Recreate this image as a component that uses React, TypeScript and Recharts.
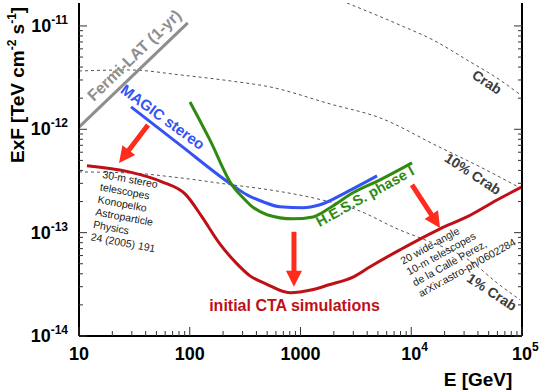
import React from 'react';
import { ComposedChart, Line, XAxis, YAxis, ReferenceLine, ReferenceDot } from 'recharts';

const FONT = '"Liberation Sans", Arial, Helvetica, sans-serif';

// ---------- data (E in GeV, F = E x F in TeV cm^-2 s^-1) ----------
const fermiE = [10, 96];
const fermiF = [1.05e-12, 1.07e-11];

const magicE = [29.5, 81.6, 240, 329, 458, 653, 1054, 1500, 2630, 4910];
const magicF = [1.65e-12, 7.06e-13, 2.9e-13, 2.32e-13, 1.99e-13, 1.78e-13, 1.74e-13, 1.86e-13, 2.48e-13, 3.54e-13];

const hessE = [100.5, 152, 240, 297, 350, 499, 855, 1297, 1847, 2978, 5224, 10160];
const hessF = [1.84e-12, 7.9e-13, 2.9e-13, 2.22e-13, 1.86e-13, 1.49e-13, 1.36e-13, 1.42e-13, 1.74e-13, 2.43e-13, 3.24e-13, 4.73e-13];

const ctaE = [11.8, 28.3, 56, 92.5, 129, 184, 262, 350, 487, 804, 1271, 1808, 2978, 4250, 7900, 18200, 31800, 59400, 100000];
const ctaF = [4.43e-13, 3.87e-13, 3.1e-13, 2.32e-13, 1.42e-13, 7.97e-14, 5.1e-14, 3.82e-14, 3.2e-14, 2.62e-14, 2.8e-14, 3.13e-14, 3.72e-14, 4.68e-14, 6.82e-14, 1.09e-13, 1.42e-13, 2.07e-13, 2.77e-13];

const crabE = [2630, 7900, 15700, 31800, 63200, 100000];
const crabF = [1.667e-11, 1.02e-11, 7.32e-12, 4.69e-12, 3.0e-12, 2.1e-12];

const crab10E = [10, 28.8, 81.6, 231, 531, 1847, 5224, 17100, 41800, 100000];
const crab10F = [3.67e-12, 3.75e-12, 3.36e-12, 2.94e-12, 2.57e-12, 1.76e-12, 1.29e-12, 6.9e-13, 4.33e-13, 2.65e-13];

const crab1E = [10, 28.8, 81.6, 240, 531, 1297, 3236, 7900, 12000, 36100, 59400, 95900];
const crab1F = [3.87e-13, 3.78e-13, 3.39e-13, 2.9e-13, 2.59e-13, 2.17e-13, 1.66e-13, 1.06e-13, 8.9e-14, 5.1e-14, 3.27e-14, 2.24e-14];

// arrows: [fromE, fromF, toE, toF]
const arrow1 = [42, 1.1e-12, 23, 4.73e-13];
const arrow2 = [873, 1.02e-13, 873, 2.99e-14];
const arrow3 = [10160, 2.9e-13, 18200, 1.11e-13];

// ticks
const xDecades = [10, 100, 1000, 10000];
const xMajorTicks = [10, 100, 1000, 1e4, 1e5];
const xMajorBase = ['10', '100', '1000', '10', '10'];
const xMajorExp = ['', '', '', '4', '5'];
const yDecades = [1e-14, 1e-13, 1e-12];
const yMajorTicks = [1e-14, 1e-13, 1e-12, 1e-11];
const yMajorExp = ['-14', '-13', '-12', '-11'];
const mult = [1, 2, 3, 4, 5, 6, 7, 8, 9];
const xTicks = [...xDecades.flatMap((d) => mult.map((m) => m * d)), 1e5];
const yTicks = [...yDecades.flatMap((d) => mult.map((m) => m * d)), 1e-11];

const konopelkoLines = ['30-m stereo', 'telescopes', 'Konopelko', 'Astroparticle', 'Physics', '24 (2005) 191'];
const calleLines = ['20 wide-angle', '10-m telescopes', 'de la Callè Perez,', 'arXiv:astro-ph/0602284'];

const toPts = (e: number[], f: number[]) => e.map((x, i) => ({ e: x, f: f[i] }));
const fermi = toPts(fermiE, fermiF);
const magic = toPts(magicE, magicF);
const hess = toPts(hessE, hessF);
const cta = toPts(ctaE, ctaF);
const crab = toPts(crabE, crabF);
const crab10 = toPts(crab10E, crab10F);
const crab1 = toPts(crab1E, crab1F);

// colours
const C_FERMI = '#8e8e8e';
const C_MAGIC = '#3552f2';
const C_HESS = '#2f8a12';
const C_CTA = '#bf0f17';
const C_ARROW = '#ff2b1c';
const C_DASH = '#555555';
const C_CRABTXT = '#3c3c3c';
const C_TICK = '#333333';

const near = (a: number, b: number) => Math.abs(a - b) <= Math.abs(b) * 1e-6;
const majorIndex = (v: number, arr: number[]) => arr.findIndex((m) => near(v, m));

const BottomTick = (p: any) => {
  const { x, y, payload } = p;
  const i = majorIndex(payload.value, xMajorTicks);
  const major = i >= 0;
  return (
    <g>
      <line x1={x} x2={x} y1={y} y2={y - (major ? 9 : 5)} stroke={C_TICK} strokeWidth={1} />
      {major && (
        <text x={x} y={y + 24} textAnchor="middle" fontFamily={FONT} fontWeight="bold" fontSize={18} fill="#000">
          {xMajorBase[i]}
        </text>
      )}
      {major && xMajorExp[i] && (
        <text x={x + 10} y={y + 15} textAnchor="start" fontFamily={FONT} fontWeight="bold" fontSize={12} fill="#000">
          {xMajorExp[i]}
        </text>
      )}
    </g>
  );
};

const TopTick = (p: any) => {
  const { x, y, payload } = p;
  const major = majorIndex(payload.value, xMajorTicks) >= 0;
  return <line x1={x} x2={x} y1={y} y2={y + (major ? 8 : 4)} stroke={C_TICK} strokeWidth={1} />;
};

const LeftTick = (p: any) => {
  const { x, y, payload } = p;
  const i = majorIndex(payload.value, yMajorTicks);
  const major = i >= 0;
  return (
    <g>
      <line x1={x} x2={x + (major ? 8 : 4)} y1={y} y2={y} stroke={C_TICK} strokeWidth={1} />
      {major && (
        <text x={x - 11} y={y + 6} textAnchor="end" fontFamily={FONT} fontWeight="bold" fontSize={18} fill="#000">
          10
          <tspan dy={-8} fontSize={12}>
            {yMajorExp[i]}
          </tspan>
        </text>
      )}
    </g>
  );
};

const RightTick = (p: any) => {
  const { x, y, payload } = p;
  const major = majorIndex(payload.value, yMajorTicks) >= 0;
  return <line x1={x} x2={x - (major ? 8 : 4)} y1={y} y2={y} stroke={C_TICK} strokeWidth={1} />;
};

const YTitle = (p: any) => {
  const vb = p.viewBox || { x: 0, y: 3 };
  const x = vb.x + 24;
  const y = vb.y + 160;
  return (
    <text x={x} y={y} transform={`rotate(-90 ${x} ${y})`} fontFamily={FONT} fontWeight="bold" fontSize={19} fill="#000">
      ExF [TeV cm
      <tspan dy={-8} fontSize={12}>-2</tspan>
      <tspan dy={8}> s</tspan>
      <tspan dy={-8} fontSize={12}>-1</tspan>
      <tspan dy={8}>]</tspan>
    </text>
  );
};

const XTitle = (p: any) => {
  const vb = p.viewBox || { x: 79, y: 336, width: 443 };
  return (
    <text x={vb.x + vb.width - 44} y={vb.y + 50} textAnchor="middle" fontFamily={FONT} fontWeight="bold" fontSize={19} fill="#000">
      E [GeV]
    </text>
  );
};

const Arrow = (p: any) => {
  const { x1, y1, x2, y2 } = p;
  const dx = x2 - x1;
  const dy = y2 - y1;
  const len = Math.hypot(dx, dy) || 1;
  const ux = dx / len;
  const uy = dy / len;
  const hl = 16;
  const hw = 8;
  const bx = x2 - ux * hl;
  const by = y2 - uy * hl;
  const px = -uy;
  const py = ux;
  return (
    <g>
      <line x1={x1} y1={y1} x2={bx + ux * 1} y2={by + uy * 1} stroke={C_ARROW} strokeWidth={5} />
      <polygon points={`${x2},${y2} ${bx + px * hw},${by + py * hw} ${bx - px * hw},${by - py * hw}`} fill={C_ARROW} />
    </g>
  );
};

const textLabel = (text: string, angle: number, color: string, size: number, weight: string) => (p: any) => (
  <text
    x={p.cx}
    y={p.cy}
    transform={`rotate(${angle} ${p.cx} ${p.cy})`}
    textAnchor="middle"
    dominantBaseline="central"
    fontFamily={FONT}
    fontWeight={weight}
    fontSize={size}
    fill={color}
  >
    {text}
  </text>
);

const blockLabel = (lines: string[], angle: number, lh: number) => (p: any) => (
  <text
    x={p.cx}
    y={p.cy}
    transform={`rotate(${angle} ${p.cx} ${p.cy})`}
    fontFamily={FONT}
    fontSize={10.5}
    fill="#1a1a1a"
  >
    {lines.map((l, i) => (
      <tspan key={i} x={p.cx} dy={i === 0 ? 0 : lh}>
        {l}
      </tspan>
    ))}
  </text>
);

const AX = { xAxisId: 'b', yAxisId: 'l' } as const;

export default function App() {
  return (
    <div style={{ position: 'absolute', left: 0, top: 0, background: '#fff' }}>
      <ComposedChart width={540} height={390} margin={{ top: 3, right: 0, bottom: 0, left: 0 }}>
        <XAxis
          xAxisId="b"
          type="number"
          dataKey="e"
          scale="log"
          domain={[10, 1e5]}
          allowDataOverflow
          ticks={xTicks}
          interval={0}
          tick={<BottomTick />}
          tickLine={false}
          tickSize={0}
          tickMargin={0}
          height={54}
          axisLine={{ stroke: '#000', strokeWidth: 2 }}
          label={<XTitle />}
        />
        <XAxis
          xAxisId="t"
          orientation="top"
          type="number"
          dataKey="e"
          scale="log"
          domain={[10, 1e5]}
          allowDataOverflow
          ticks={xTicks}
          interval={0}
          tick={<TopTick />}
          tickLine={false}
          tickSize={0}
          tickMargin={0}
          height={0}
          axisLine={{ stroke: '#444', strokeWidth: 1 }}
        />
        <YAxis
          yAxisId="l"
          type="number"
          dataKey="f"
          scale="log"
          domain={[1e-14, 1.667e-11]}
          allowDataOverflow
          ticks={yTicks}
          interval={0}
          tick={<LeftTick />}
          tickLine={false}
          tickSize={0}
          tickMargin={0}
          width={79}
          axisLine={{ stroke: '#000', strokeWidth: 2 }}
          label={<YTitle />}
        />
        <YAxis
          yAxisId="r"
          orientation="right"
          type="number"
          dataKey="f"
          scale="log"
          domain={[1e-14, 1.667e-11]}
          allowDataOverflow
          ticks={yTicks}
          interval={0}
          tick={<RightTick />}
          tickLine={false}
          tickSize={0}
          tickMargin={0}
          width={18}
          axisLine={{ stroke: '#000', strokeWidth: 2 }}
        />

        <Line xAxisId="t" yAxisId="r" data={fermi} dataKey="f" stroke="none" dot={false} activeDot={false} isAnimationActive={false} />

        <Line {...AX} data={crab} dataKey="f" type="monotone" stroke={C_DASH} strokeWidth={1} strokeDasharray="3 3" dot={false} isAnimationActive={false} />
        <Line {...AX} data={crab10} dataKey="f" type="monotone" stroke={C_DASH} strokeWidth={1} strokeDasharray="3 3" dot={false} isAnimationActive={false} />
        <Line {...AX} data={crab1} dataKey="f" type="monotone" stroke={C_DASH} strokeWidth={1} strokeDasharray="3 3" dot={false} isAnimationActive={false} />

        <Line {...AX} data={fermi} dataKey="f" type="linear" stroke={C_FERMI} strokeWidth={3} dot={false} isAnimationActive={false} />
        <Line {...AX} data={magic} dataKey="f" type="monotone" stroke={C_MAGIC} strokeWidth={3} dot={false} isAnimationActive={false} />
        <Line {...AX} data={hess} dataKey="f" type="monotone" stroke={C_HESS} strokeWidth={3} dot={false} isAnimationActive={false} />
        <Line {...AX} data={cta} dataKey="f" type="monotone" stroke={C_CTA} strokeWidth={3} dot={false} isAnimationActive={false} />

        <ReferenceLine {...AX} segment={[{ x: arrow1[0], y: arrow1[1] }, { x: arrow1[2], y: arrow1[3] }]} shape={Arrow} />
        <ReferenceLine {...AX} segment={[{ x: arrow2[0], y: arrow2[1] }, { x: arrow2[2], y: arrow2[3] }]} shape={Arrow} />
        <ReferenceLine {...AX} segment={[{ x: arrow3[0], y: arrow3[1] }, { x: arrow3[2], y: arrow3[3] }]} shape={Arrow} />

        <ReferenceDot {...AX} x={31.5} y={5.2e-12} r={0} shape={textLabel('Fermi-LAT (1-yr)', -44, C_FERMI, 16, 'bold')} />
        <ReferenceDot {...AX} x={57.3} y={1.32e-12} r={0} shape={textLabel('MAGIC stereo', 36, C_MAGIC, 15, 'bold')} />
        <ReferenceDot {...AX} x={3820} y={2.25e-13} r={0} shape={textLabel('H.E.S.S. phase I', -29, C_HESS, 14.5, 'bold')} />
        <ReferenceDot {...AX} x={883} y={1.96e-14} r={0} shape={textLabel('initial CTA simulations', 0, C_CTA, 16, 'bold')} />
        <ReferenceDot {...AX} x={48300} y={2.87e-12} r={0} shape={textLabel('Crab', 33, C_CRABTXT, 14, 'bold')} />
        <ReferenceDot {...AX} x={36100} y={3.71e-13} r={0} shape={textLabel('10% Crab', 33, C_CRABTXT, 14, 'bold')} />
        <ReferenceDot {...AX} x={53600} y={2.67e-14} r={0} shape={textLabel('1% Crab', 33, C_CRABTXT, 14, 'bold')} />
        <ReferenceDot {...AX} x={16.1} y={3.39e-13} r={0} shape={blockLabel(konopelkoLines, 10.5, 12.7)} />
        <ReferenceDot {...AX} x={8440} y={4.89e-14} r={0} shape={blockLabel(calleLines, -29, 12.4)} />
      </ComposedChart>
    </div>
  );
}
